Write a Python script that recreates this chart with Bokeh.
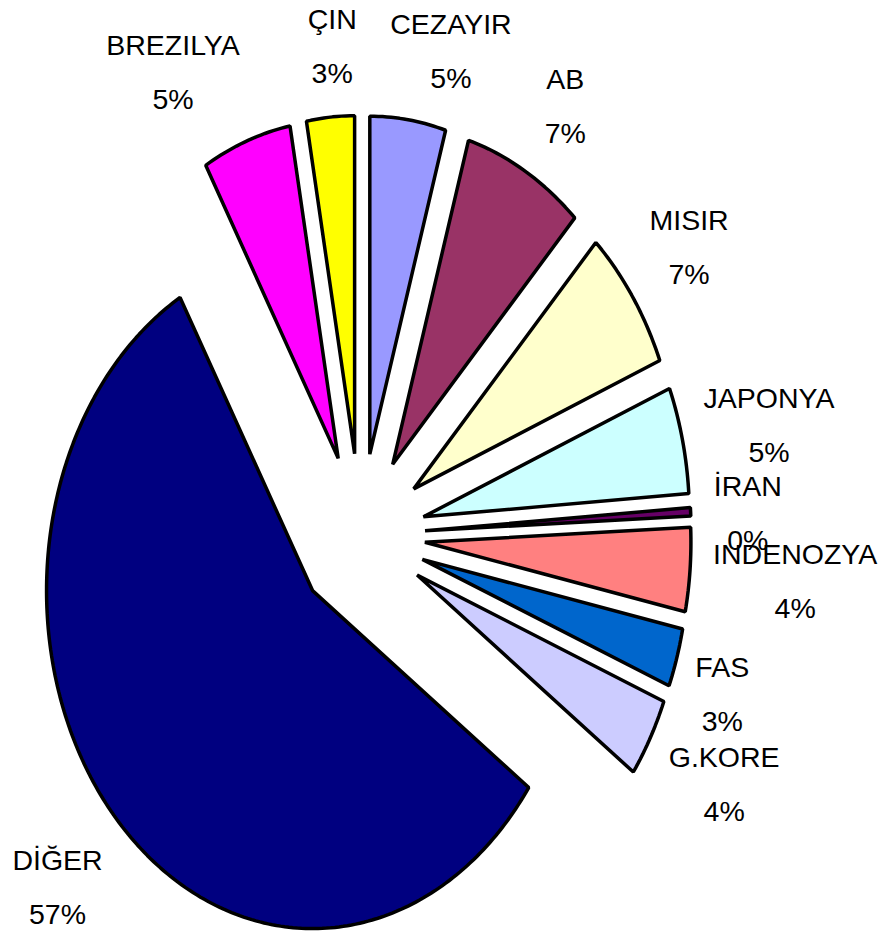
import numpy as np
from bokeh.plotting import figure
from bokeh.models import ColumnDataSource
from bokeh.core.properties import value
from bokeh.embed import file_html
from bokeh.resources import INLINE

# ---- data ----
countries = ["CEZAYIR", "AB", "MISIR", "JAPONYA", "İRAN", "INDENOZYA",
             "FAS", "G.KORE", "DİĞER", "BREZILYA", "ÇIN"]
shares = [4.6, 7.4, 6.8, 5.1, 0.4, 4.0, 2.8, 3.8, 56.8, 5.4, 2.9]
colors = ["#9999FF", "#993366", "#FFFFCC", "#CCFFFF", "#660066", "#FF8080",
          "#0066CC", "#CCCCFF", "#000080", "#FF00FF", "#FFFF00"]

# ---- layout ----
W, H = 878, 932
RX, RY = 266.0, 338.0          # pixel radii of the (stretched) pie
CX, CY = 360.0, 535.0          # pie centre in figure pixels
EXPLODE = 0.243                # explosion as fraction of radius
LABEL_R = 1.5                  # label anchor radius (fraction of radius)
LINE_GAP = 27                  # px between label centre and each line
label_nudge = [(33, 17), (6, 10), (0, -1), (20, 5), (-11, 6), (37, 4),
               (-20, 11), (14, 4), (-7, 11), (-50, 12), (8, 15)]

vals = np.array(shares, dtype=float)
frac = vals / vals.sum()
ends = np.cumsum(frac) * 2 * np.pi
starts = ends - frac * 2 * np.pi
mids = (starts + ends) / 2

xs, ys = [], []
for a0, a1, m in zip(starts, ends, mids):
    ox, oy = EXPLODE * np.sin(m), EXPLODE * np.cos(m)
    n = max(4, int(np.ceil((a1 - a0) / (2 * np.pi) * 400)))
    t = np.linspace(a0, a1, n)
    px = np.concatenate([[ox], ox + np.sin(t)])
    py = np.concatenate([[oy], oy + np.cos(t)])
    xs.append(px.tolist())
    ys.append(py.tolist())

src = ColumnDataSource(dict(xs=xs, ys=ys, color=colors))

x0 = -CX / RX
x1 = (W - CX) / RX
y1 = CY / RY
y0 = -(H - CY) / RY

p = figure(width=W, height=H, x_range=(x0, x1), y_range=(y0, y1),
           output_backend="svg", toolbar_location=None, min_border=0,
           x_axis_type=None, y_axis_type=None)
p.grid.visible = False
p.outline_line_color = None
p.background_fill_color = "white"

p.patches("xs", "ys", source=src, fill_color="color", line_color="black",
          line_width=3.5)

lx, ly = [], []
for m, (dx, dy) in zip(mids, label_nudge):
    lx.append(LABEL_R * np.sin(m) + dx / RX)
    ly.append(LABEL_R * np.cos(m) - dy / RY)
lx = np.array(lx)
ly = np.array(ly)
pct = [f"{round(v / vals.sum() * 100):.0f}%" for v in vals]

lsrc = ColumnDataSource(dict(x=lx, yn=ly + LINE_GAP / RY, yp=ly - LINE_GAP / RY,
                             name=countries, pct=pct))
common = dict(source=lsrc, text_align="center", text_baseline="middle",
              text_font=value("Liberation Sans"), text_font_size="28.5px",
              text_color="black")
p.text(x="x", y="yn", text="name", **common)
p.text(x="x", y="yp", text="pct", **common)

with open("out.html", "w") as f:
    f.write(file_html(p, INLINE))
